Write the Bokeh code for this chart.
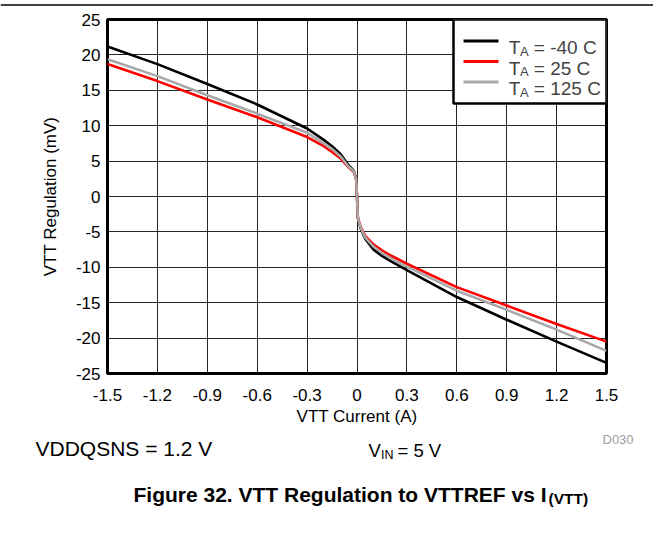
from bokeh.plotting import figure
from bokeh.models import Range1d, FixedTicker, Label, BoxAnnotation, Arrow, ColumnDataSource, Span
from bokeh.embed import file_html
from bokeh.resources import INLINE

# ---------------- data ----------------
current_a = [-1.5, -1.2, -0.9, -0.6, -0.3, -0.2, -0.15, -0.1, -0.05, -0.02, -0.005, 0.0,
             0.005, 0.02, 0.05, 0.1, 0.15, 0.2, 0.3, 0.6, 0.9, 1.2, 1.5]
reg_m40c = [21.2, 18.7, 15.9, 13.0, 9.6, 8.0, 7.1, 6.0, 4.4, 3.7, 2.5, 0.0,
            -3.0, -4.4, -6.0, -7.5, -8.4, -9.1, -10.4, -14.2, -17.4, -20.5, -23.5]
reg_25c = [18.7, 16.3, 13.7, 11.2, 8.4, 7.1, 6.3, 5.4, 4.1, 3.5, 2.5, 0.0,
           -3.0, -4.2, -5.6, -6.8, -7.6, -8.3, -9.5, -12.8, -15.4, -18.0, -20.5]
reg_125c = [19.4, 17.0, 14.3, 11.7, 9.0, 7.5, 6.7, 5.7, 4.2, 3.6, 2.5, 0.0,
            -3.0, -4.3, -5.8, -7.1, -7.95, -8.7, -9.9, -13.3, -16.0, -18.8, -21.8]

series_values = [reg_m40c, reg_25c, reg_125c]
series_temps = ["-40 C", "25 C", "125 C"]
series_colors = ["#000000", "#FF0000", "#A8A8A8"]

x_ticks = [-1.5, -1.2, -0.9, -0.6, -0.3, 0.0, 0.3, 0.6, 0.9, 1.2, 1.5]
x_tick_labels = ["-1.5", "-1.2", "-0.9", "-0.6", "-0.3", "0", "0.3", "0.6", "0.9", "1.2", "1.5"]
y_ticks = [-25, -20, -15, -10, -5, 0, 5, 10, 15, 20, 25]
y_tick_labels = ["-25", "-20", "-15", "-10", "-5", "0", "5", "10", "15", "20", "25"]

X0, X1 = -1.5, 1.5
Y0, Y1 = -25, 25

# ---------------- layout (page pixel positions) ----------------
W = 653
STRIP_H = 10                 # thin strip holding the rule at the top of the page
TOP1 = STRIP_H               # chart figure starts here
PL, PR, PT, PB = 107, 606, 19, 373   # plot frame edges on the page
TOP2 = 429                   # caption figure starts here
H1 = TOP2 - TOP1
H2 = 517 - TOP2
CAP_SHIFT = 8                # the caption block lands this much lower on the page
FONT = "Liberation Sans"


def cx(px):
    return X0 + (px - PL) / (PR - PL) * (X1 - X0)


def cy(py):
    return Y1 - (py - PT) / (PB - PT) * (Y1 - Y0)


def blank(height):
    f = figure(width=W, height=height, output_backend="svg", toolbar_location=None,
               x_range=Range1d(0, W), y_range=Range1d(height, 0),
               x_axis_type=None, y_axis_type=None,
               min_border=0, min_border_left=0, min_border_right=0,
               min_border_top=0, min_border_bottom=0)
    f.outline_line_color = None
    f.grid.visible = False
    f.background_fill_color = "white"
    f.border_fill_color = "white"
    return f


# ---------------- top rule ----------------
strip = blank(STRIP_H)
strip.add_layout(Span(location=2.5, dimension="width", line_color="black", line_width=1.5))

# ---------------- chart ----------------
p = figure(width=W, height=H1, output_backend="svg", toolbar_location=None,
           x_range=Range1d(X0, X1), y_range=Range1d(Y0, Y1),
           min_border_left=PL, min_border_right=W - PR,
           min_border_top=PT - TOP1, min_border_bottom=TOP2 - PB)

p.background_fill_color = "white"
p.border_fill_color = "white"
p.outline_line_color = "black"
p.outline_line_width = 3

for ax in (p.xaxis[0], p.yaxis[0]):
    ax.axis_line_color = None
    ax.major_tick_line_color = None
    ax.minor_tick_line_color = None
    ax.major_tick_out = 0
    ax.major_tick_in = 0
    ax.major_label_text_font = FONT
    ax.major_label_text_font_size = "17px"
    ax.major_label_text_color = "black"
    ax.axis_label_text_font = FONT
    ax.axis_label_text_font_size = "17px"
    ax.axis_label_text_font_style = "normal"
    ax.axis_label_text_color = "black"

p.xaxis.ticker = FixedTicker(ticks=x_ticks)
p.xaxis.major_label_overrides = {t: l for t, l in zip(x_ticks, x_tick_labels)}
p.xaxis.axis_label = "VTT Current (A)"
p.xaxis.major_label_standoff = 15
p.xaxis.axis_label_standoff = 3

p.yaxis.ticker = FixedTicker(ticks=y_ticks)
p.yaxis.major_label_overrides = {t: l for t, l in zip(y_ticks, y_tick_labels)}
p.yaxis.axis_label = "VTT Regulation (mV)"
p.yaxis.major_label_standoff = 7
p.yaxis.axis_label_standoff = 13

p.xgrid.ticker = FixedTicker(ticks=x_ticks)
p.ygrid.ticker = FixedTicker(ticks=y_ticks)
for g in (p.xgrid[0], p.ygrid[0]):
    g.grid_line_color = "#000000"
    g.grid_line_width = 1
    g.grid_line_alpha = 0.85

for vals, col in zip(series_values, series_colors):
    src = ColumnDataSource(dict(x=current_a, y=vals))
    p.line("x", "y", source=src, line_color=col, line_width=2.6, line_join="round")

# legend, drawn by hand so that the subscripts are real
p.add_layout(BoxAnnotation(left=cx(453), right=X1, top=Y1, bottom=cy(103),
                           fill_color="white", fill_alpha=1.0,
                           line_color="black", line_width=2.5, line_alpha=1.0))
row_base = [47.0, 67.5, 88.0]
for rb, temp, col in zip(row_base, series_temps, series_colors):
    ly = rb - 6.5
    p.add_layout(Arrow(end=None, x_start=cx(463), y_start=cy(ly), x_end=cx(498), y_end=cy(ly),
                       line_color=col, line_width=3))
    p.add_layout(Label(x=cx(508.3), y=cy(rb), text="T", text_font=FONT,
                       text_font_size="19px", text_baseline="alphabetic", text_align="left"))
    p.add_layout(Label(x=cx(519.5), y=cy(rb + 3.5), text="A", text_font=FONT,
                       text_font_size="13px", text_baseline="alphabetic", text_align="left"))
    p.add_layout(Label(x=cx(533.3), y=cy(rb), text="= " + temp, text_font=FONT,
                       text_font_size="19px", text_baseline="alphabetic", text_align="left"))

# ---------------- captions ----------------
cap = blank(H2)


def caption(px, py, text, size, color="black", style="normal"):
    cap.add_layout(Label(x=px, y=py - TOP2 - CAP_SHIFT, text=text, text_font=FONT,
                         text_font_size=size, text_color=color, text_font_style=style,
                         text_baseline="alphabetic", text_align="left"))


caption(602, 447, "D030", "13px", color="#A0A0A0")
caption(35, 455.5, "VDDQSNS = 1.2 V", "21px")
caption(368, 458, "V", "18.5px")
caption(380.5, 462, "IN", "12.5px")
caption(397, 458, "= 5 V", "18.5px")
caption(133, 502, "Figure 32. VTT Regulation to VTTREF vs I", "21px", style="bold")
caption(548, 506, "(VTT)", "15.5px", style="bold")

open("out.html", "w").write(file_html([strip, p, cap], INLINE))
